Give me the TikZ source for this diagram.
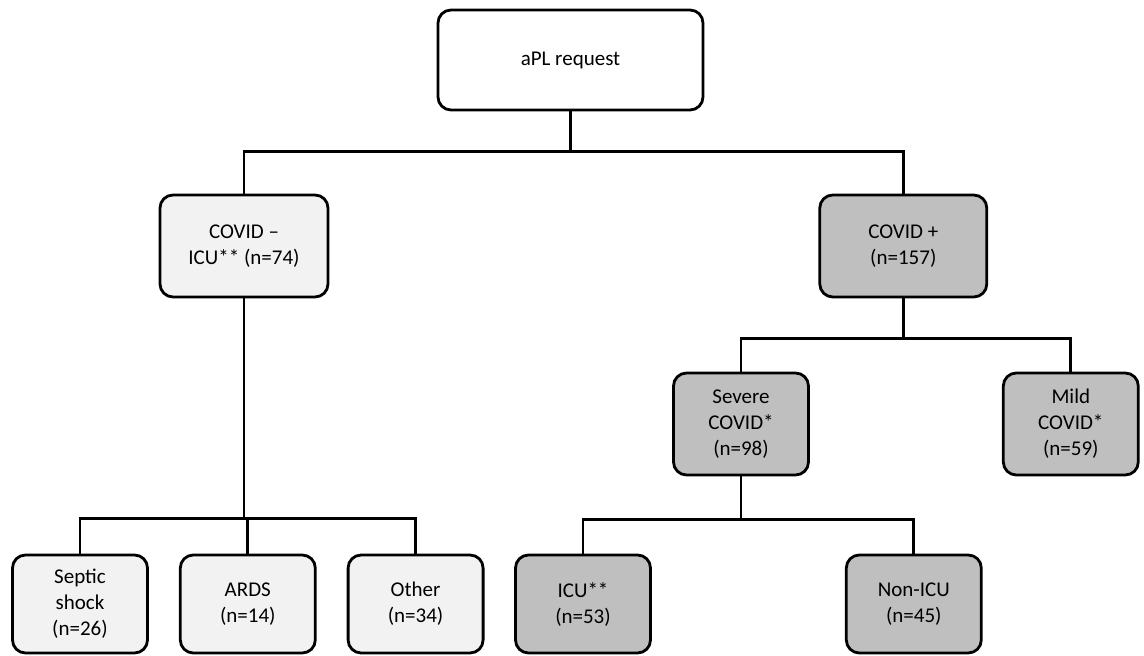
\documentclass[tikz,border=0pt]{standalone}
\usepackage{fontspec}
\setmainfont{Carlito}
\usepackage{tikz}
\usetikzlibrary{positioning}
\definecolor{lightfill}{RGB}{242,242,242}
\definecolor{darkfill}{RGB}{191,191,191}
\tikzstyle{block} = [draw, fill=white, rectangle, rounded corners=6.5pt,
line width=1.4pt, align=center, inner sep=2pt,
font=\fontsize{10.5}{13}\selectfont, minimum height=51pt, minimum width=67.5pt]
\tikzstyle{light} = [block, fill=lightfill]
\tikzstyle{dark} = [block, fill=darkfill]
\tikzstyle{line} = [line width=1.4pt]

\begin{document}
\begin{tikzpicture}[x=0.5pt, y=-0.5pt]
	\useasboundingbox (0,0) rectangle (1144,656);
	\node [block, minimum width=132.5pt, minimum height=50pt] (APLRequest) at (570.5,60) {aPL request};
	\node [light, minimum width=84pt] (CovidNeg) at (244,246) {COVID \textendash\\ICU** (n=74)};
	\node [dark, minimum width=83.5pt, right=244.5pt of CovidNeg] (CovidPos) {COVID +\\(n=157)};
	\node [dark] (SevereCovid) at (741,424) {Severe\\COVID*\\(n=98)};
	\node [dark, right=96pt of SevereCovid] (MildCovid) {Mild\\COVID*\\(n=59)};
	\node [dark, minimum height=49pt] (ICU) at (583,604) {ICU**\\(n=53)};
	\node [dark, minimum height=49pt, right=96.5pt of ICU] (NonICU) {Non-ICU\\(n=45)};
	\node [light, minimum height=49pt] (SepticShock) at (80,604) {Septic\\shock\\(n=26)};
	\node [light, minimum height=49pt, right=15pt of SepticShock] (ARDS) {ARDS\\(n=14)};
	\node [light, minimum height=49pt, right=15pt of ARDS] (Other) {Other\\(n=34)};
	
	\draw [line] (APLRequest.south) -- ++(0,-20pt) -| (CovidNeg.north);
	\draw [line] (APLRequest.south) -- ++(0,-20pt) -| (CovidPos.north);
	\draw [line] (CovidPos.south) -- ++(0,-20pt) -| (SevereCovid.north);
	\draw [line] (CovidPos.south) -- ++(0,-20pt) -| (MildCovid.north);
	\draw [line] (SevereCovid.south) -- ++(0,-21.5pt) -| (ICU.north);
	\draw [line] (SevereCovid.south) -- ++(0,-21.5pt) -| (NonICU.north);
	\draw [line] (CovidNeg.south) -- ++(0,-110pt) -| (SepticShock.north);
	\draw [line] (CovidNeg.south) -- ++(0,-110pt) -| (ARDS.north);
	\draw [line] (CovidNeg.south) -- ++(0,-110pt) -| (Other.north);
	
\end{tikzpicture}
\end{document}
